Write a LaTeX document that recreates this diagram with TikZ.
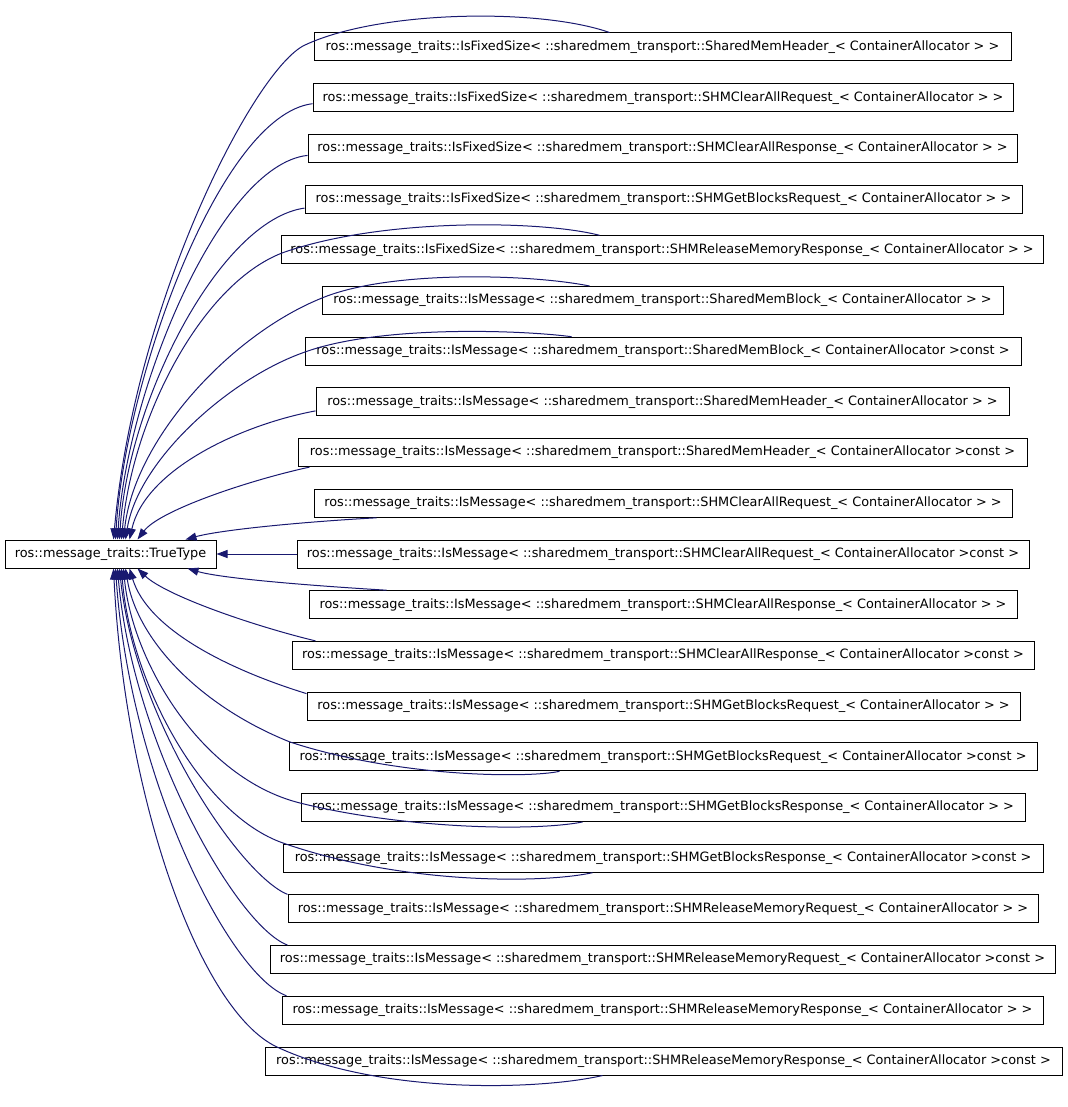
\documentclass[tikz,border=0pt]{standalone}
\usepackage{fontspec}
\setmainfont{DejaVu Sans}
\usetikzlibrary{arrows.meta}
\definecolor{edgecol}{HTML}{191970}
\begin{document}
\begin{tikzpicture}[x=1pt,y=-1pt,
  box/.style={draw=black,line width=1pt,fill=none,minimum height=28pt,inner sep=0pt,
    font=\fontsize{12.85pt}{14pt}\selectfont},
  inh/.style={draw=edgecol,line width=1pt,-{Triangle[length=11pt,width=8pt]},fill=none},
]
\useasboundingbox (0,0) rectangle (1067,1107);

\node[box,minimum width=211pt] (tt) at (110.5,554) {ros::message\_traits::TrueType};

\node[box,minimum width=697pt] (n1) at (662.5,47) {ros::message\_traits::IsFixedSize< ::sharedmem\_transport::SharedMemHeader\_< ContainerAllocator > >};
\node[box,minimum width=700pt] (n2) at (663,97.7) {ros::message\_traits::IsFixedSize< ::sharedmem\_transport::SHMClearAllRequest\_< ContainerAllocator > >};
\node[box,minimum width=709pt] (n3) at (662.5,148.4) {ros::message\_traits::IsFixedSize< ::sharedmem\_transport::SHMClearAllResponse\_< ContainerAllocator > >};
\node[box,minimum width=717pt] (n4) at (663.5,199.1) {ros::message\_traits::IsFixedSize< ::sharedmem\_transport::SHMGetBlocksRequest\_< ContainerAllocator > >};
\node[box,minimum width=762pt] (n5) at (662,249.8) {ros::message\_traits::IsFixedSize< ::sharedmem\_transport::SHMReleaseMemoryResponse\_< ContainerAllocator > >};
\node[box,minimum width=681pt] (n6) at (662.5,300.5) {ros::message\_traits::IsMessage< ::sharedmem\_transport::SharedMemBlock\_< ContainerAllocator > >};
\node[box,minimum width=716pt] (n7) at (663,351.2) {ros::message\_traits::IsMessage< ::sharedmem\_transport::SharedMemBlock\_< ContainerAllocator >const >};
\node[box,minimum width=693pt] (n8) at (662.5,401.9) {ros::message\_traits::IsMessage< ::sharedmem\_transport::SharedMemHeader\_< ContainerAllocator > >};
\node[box,minimum width=729pt] (n9) at (662.5,452.6) {ros::message\_traits::IsMessage< ::sharedmem\_transport::SharedMemHeader\_< ContainerAllocator >const >};
\node[box,minimum width=698pt] (n10) at (663,503.3) {ros::message\_traits::IsMessage< ::sharedmem\_transport::SHMClearAllRequest\_< ContainerAllocator > >};
\node[box,minimum width=732pt] (n11) at (663,554) {ros::message\_traits::IsMessage< ::sharedmem\_transport::SHMClearAllRequest\_< ContainerAllocator >const >};
\node[box,minimum width=708pt] (n12) at (663,604.7) {ros::message\_traits::IsMessage< ::sharedmem\_transport::SHMClearAllResponse\_< ContainerAllocator > >};
\node[box,minimum width=742pt] (n13) at (663,655.4) {ros::message\_traits::IsMessage< ::sharedmem\_transport::SHMClearAllResponse\_< ContainerAllocator >const >};
\node[box,minimum width=713pt] (n14) at (663.5,706.1) {ros::message\_traits::IsMessage< ::sharedmem\_transport::SHMGetBlocksRequest\_< ContainerAllocator > >};
\node[box,minimum width=748pt] (n15) at (663,756.8) {ros::message\_traits::IsMessage< ::sharedmem\_transport::SHMGetBlocksRequest\_< ContainerAllocator >const >};
\node[box,minimum width=724pt] (n16) at (663,807.5) {ros::message\_traits::IsMessage< ::sharedmem\_transport::SHMGetBlocksResponse\_< ContainerAllocator > >};
\node[box,minimum width=760pt] (n17) at (663,858.2) {ros::message\_traits::IsMessage< ::sharedmem\_transport::SHMGetBlocksResponse\_< ContainerAllocator >const >};
\node[box,minimum width=750pt] (n18) at (663,908.9) {ros::message\_traits::IsMessage< ::sharedmem\_transport::SHMReleaseMemoryRequest\_< ContainerAllocator > >};
\node[box,minimum width=785pt] (n19) at (662.5,959.6) {ros::message\_traits::IsMessage< ::sharedmem\_transport::SHMReleaseMemoryRequest\_< ContainerAllocator >const >};
\node[box,minimum width=761pt] (n20) at (662.5,1010.3) {ros::message\_traits::IsMessage< ::sharedmem\_transport::SHMReleaseMemoryResponse\_< ContainerAllocator > >};
\node[box,minimum width=797pt] (n21) at (663.5,1061) {ros::message\_traits::IsMessage< ::sharedmem\_transport::SHMReleaseMemoryResponse\_< ContainerAllocator >const >};

% upper edges
\draw[inh] ([xshift=296pt]n1.north west) .. controls (540,8) and (380,10) .. (305,45)
  .. controls (255,68) and (135,300) .. ([xshift=109pt]tt.north west);
\draw[inh] ([yshift=-6pt]n2.west) .. controls (220,115) and (125,380) .. ([xshift=111pt]tt.north west);
\draw[inh] ([yshift=-7pt]n3.west) .. controls (220,165) and (127,390) .. ([xshift=113pt]tt.north west);
\draw[inh] ([yshift=-9pt]n4.west) .. controls (220,220) and (128,400) .. ([xshift=115pt]tt.north west);
\draw[inh] ([xshift=319pt]n5.north west) .. controls (540,220) and (380,218) .. (282,253)
  .. controls (200,285) and (132,420) .. ([xshift=117pt]tt.north west);
\draw[inh] ([xshift=268pt]n6.north west) .. controls (530,274) and (390,270) .. (322,298)
  .. controls (230,335) and (134,440) .. ([xshift=119pt]tt.north west);
\draw[inh] ([xshift=267pt]n7.north west) .. controls (520,330) and (380,325) .. (305,352)
  .. controls (230,378) and (138,460) .. ([xshift=121pt]tt.north west);
\draw[inh] ([yshift=-9pt]n8.west) .. controls (240,425) and (145,470) .. ([xshift=125pt]tt.north west);
\draw[inh] ([xshift=12pt]n9.south west) .. controls (250,480) and (160,510) .. ([xshift=133pt]tt.north west);
\draw[inh] ([xshift=63pt]n10.south west) .. controls (300,522) and (220,530) .. ([xshift=181pt]tt.north west);
% middle
\draw[inh] (n11.west) -- (tt.east);
% lower edges
\draw[inh] ([xshift=78pt]n12.north west) .. controls (300,585) and (220,578) .. ([xshift=183pt]tt.south west);
\draw[inh] ([xshift=24pt]n13.north west) .. controls (250,625) and (165,595) .. ([xshift=133pt]tt.south west);
\draw[inh] ([yshift=-2pt]n14.north west) .. controls (230,670) and (148,630) .. ([xshift=125pt]tt.south west);
\draw[inh] ([xshift=271pt]n15.south west) .. controls (530,778) and (400,778) .. (290,742)
  .. controls (200,706) and (137,640) .. ([xshift=121pt]tt.south west);
\draw[inh] ([xshift=282pt]n16.south west) .. controls (530,832) and (400,828) .. (300,803)
  .. controls (200,778) and (132,660) .. ([xshift=119pt]tt.south west);
\draw[inh] ([xshift=310pt]n17.south west) .. controls (540,884) and (400,884) .. (283,843)
  .. controls (200,814) and (130,680) .. ([xshift=117pt]tt.south west);
\draw[inh] (n18.north west) .. controls (240,875) and (135,720) .. ([xshift=115pt]tt.south west);
\draw[inh] ([xshift=18pt]n19.north west) .. controls (235,925) and (132,740) .. ([xshift=113pt]tt.south west);
\draw[inh] ([xshift=5pt]n20.north west) .. controls (230,975) and (130,780) .. ([xshift=111pt]tt.south west);
\draw[inh] ([xshift=338pt]n21.south west) .. controls (540,1090) and (380,1095) .. (277,1047)
  .. controls (200,1011) and (125,800) .. ([xshift=109pt]tt.south west);
\end{tikzpicture}
\end{document}
